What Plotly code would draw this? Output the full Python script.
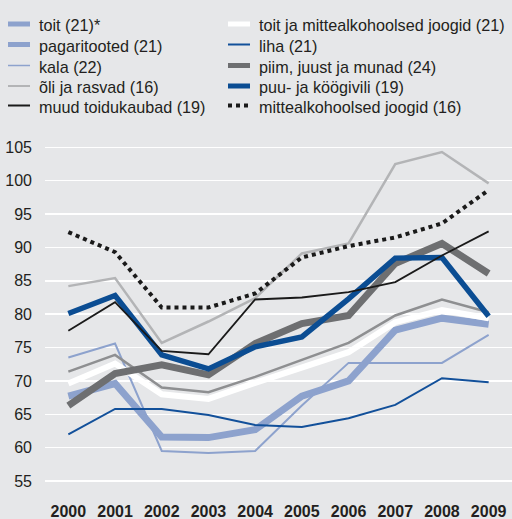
import plotly.graph_objects as go

years = [2000, 2001, 2002, 2003, 2004, 2005, 2006, 2007, 2008, 2009]
tick_vals_y = [55, 60, 65, 70, 75, 80, 85, 90, 95, 100, 105]

toit = [71.4, 73.9, 69.0, 68.3, 70.6, 73.1, 75.7, 79.8, 82.2, 80.3]
toit_joogid = [69.6, 72.6, 68.0, 67.3, 69.7, 71.9, 74.3, 78.8, 80.6, 79.4]
pagaritooted = [67.7, 69.6, 61.6, 61.5, 62.7, 67.7, 70.0, 77.6, 79.4, 78.5]
liha = [62.0, 65.8, 65.8, 64.9, 63.4, 63.1, 64.4, 66.4, 70.4, 69.8]
kala = [73.5, 75.6, 59.5, 59.2, 59.5, 66.3, 72.7, 72.7, 72.7, 76.9]
piim = [66.3, 71.1, 72.4, 70.9, 75.6, 78.6, 79.8, 87.6, 90.6, 86.1]
oli = [84.2, 85.4, 75.7, 78.9, 82.4, 89.1, 90.6, 102.5, 104.3, 99.6]
puu = [80.1, 82.8, 73.9, 71.8, 75.1, 76.6, 82.3, 88.4, 88.5, 79.7]
muud = [77.5, 81.8, 74.5, 74.0, 82.2, 82.5, 83.3, 84.8, 88.8, 92.4]
joogid = [92.3, 89.3, 81.0, 81.0, 83.1, 88.5, 90.2, 91.5, 93.6, 98.6]

LBLUE = "#8da2cd"
BLUE = "#0b4d93"
DBLUE = "#12509a"
DGRAY = "#6e6f71"
MGRAY = "#8e8f91"
LGRAY = "#b3b4b6"
BLACK = "#1a1a1a"
BG = "#e6e7e9"
TXT = "#231f20"

W, H = 512, 519
ML, MR, MT, MB = 45, 0, 134, 28
PW, PH = W - ML - MR, H - MT - MB

fig = go.Figure()

def add(name, ys, color, width, dash="solid"):
    fig.add_trace(go.Scatter(
        x=years, y=ys, mode="lines", name=name,
        line=dict(color=color, width=width, dash=dash),
        showlegend=False, hoverinfo="skip"))

# drawing order: bottom to top
add("õli ja rasvad (16)", oli, LGRAY, 2.5)
add("pagaritooted (21)", pagaritooted, LBLUE, 7)
add("kala (22)", kala, LBLUE, 2)
add("liha (21)", liha, DBLUE, 2)
add("toit ja mittealkohoolsed joogid (21)", toit_joogid, "#ffffff", 6)
add("toit (21)*", toit, MGRAY, 2.5)
add("piim, juust ja munad (24)", piim, DGRAY, 7)
add("puu- ja köögivili (19)", puu, BLUE, 5.5)
add("muud toidukaubad (19)", muud, BLACK, 1.8)
add("mittealkohoolsed joogid (16)", joogid, BLACK, 4, dash="dot")

# legend drawn as two columns (labels and line samples as in the reference)
legend_left = [
    ("toit (21)*", LBLUE, 5, "solid"),
    ("pagaritooted (21)", LBLUE, 5, "solid"),
    ("kala (22)", LBLUE, 1.5, "solid"),
    ("õli ja rasvad (16)", LGRAY, 2, "solid"),
    ("muud toidukaubad (19)", BLACK, 2, "solid"),
]
legend_right = [
    ("toit ja mittealkohoolsed joogid (21)", "#ffffff", 5, "solid"),
    ("liha (21)", DBLUE, 2, "solid"),
    ("piim, juust ja munad (24)", DGRAY, 5, "solid"),
    ("puu- ja köögivili (19)", BLUE, 5, "solid"),
    ("mittealkohoolsed joogid (16)", BLACK, 4, "dot"),
]
row_px = [24, 44.5, 65.5, 86, 105.5]

def px_x(p):
    return (p - ML) / PW

def px_y(p):
    return (H - MB - p) / PH

shapes = []
annotations = []
for col, (sym_x0, sym_x1, txt_x) in zip([legend_left, legend_right],
                                        [(8, 30, 37), (228, 250, 257)]):
    for (label, color, width, dash), ry in zip(col, row_px):
        shapes.append(dict(type="line", xref="paper", yref="paper",
                           x0=px_x(sym_x0), x1=px_x(sym_x1), y0=px_y(ry), y1=px_y(ry),
                           line=dict(color=color, width=width, dash=dash)))
        annotations.append(dict(xref="paper", yref="paper", x=px_x(txt_x), y=px_y(ry + 1),
                                text=label, showarrow=False, xanchor="left", yanchor="middle",
                                font=dict(size=16.2, color=TXT)))

fig.update_layout(
    width=W, height=H,
    margin=dict(l=ML, r=MR, t=MT, b=MB),
    paper_bgcolor=BG, plot_bgcolor=BG,
    font=dict(family="Liberation Sans, Arial, sans-serif", size=16, color=TXT),
    showlegend=False,
    shapes=shapes, annotations=annotations,
    xaxis=dict(range=[1999.5, 2009.5], tickvals=years, showgrid=False, zeroline=False,
               showline=False, ticks="", automargin=False, ticklabelstandoff=9,
               tickfont=dict(size=16, weight="bold")),
    yaxis=dict(range=[53.5, 107], tickvals=tick_vals_y, showgrid=True, gridcolor="#ffffff",
               gridwidth=1.5, zeroline=False, showline=False, ticks="", automargin=False,
               ticklabelstandoff=12, tickfont=dict(size=16)),
)

fig.write_html("out.html", config=dict(displayModeBar=False, staticPlot=True),
               post_script="document.body.style.margin='0';document.body.style.overflow='hidden';")
